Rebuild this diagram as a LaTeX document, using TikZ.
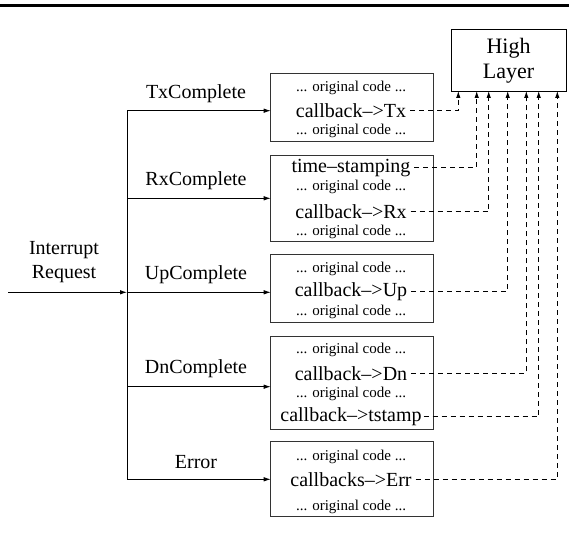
\documentclass[tikz,border=0pt]{standalone}
\usepackage{fontspec}
\setmainfont{Liberation Serif}
\usetikzlibrary{arrows.meta}
\begin{document}
\begin{tikzpicture}[x=1pt,y=-1pt,
  every node/.style={inner sep=0pt,outer sep=0pt},
  codebox/.style={draw=black!80,line width=0.9pt,minimum width=162.3pt},
  big/.style={font=\fontsize{20}{22}\selectfont},
  small/.style={font=\fontsize{15}{17}\selectfont},
  cb/.style={big,inner sep=4pt},
  lbl/.style={big},
  arr/.style={-{Latex[length=7pt,width=4.5pt]},line width=0.8pt},
  dsh/.style={dash pattern=on 5pt off 4pt,-{Latex[length=7pt,width=4.5pt]},line width=0.8pt}]
\useasboundingbox (0,0) rectangle (569,534);
\draw[line width=3pt] (0,6) -- (569,6);
% High layer
\node[draw=black,line width=0.9pt,minimum width=114.3pt,minimum height=61.7pt] (hl) at (508.8,60.15) {};
\node[font=\fontsize{22}{24}\selectfont] (hlt1) at (508.5,48.5) {High};
\node[font=\fontsize{22}{24}\selectfont] (hlt2) at (508.5,73.3) {Layer};
% boxes
\node[codebox,minimum height=68.4pt] (bTx) at (351.85,107.5) {};
\node[codebox,minimum height=86.7pt] (bRx) at (351.85,198.35) {};
\node[codebox,minimum height=68.4pt] (bUp) at (351.85,288.5) {};
\node[codebox,minimum height=93.3pt] (bDn) at (351.85,382.65) {};
\node[codebox,minimum height=75pt] (bErr) at (351.85,479.2) {};
% box texts
\node[small] (o1) at (351,88.3) {... original code ...};
\node[cb] (tTx) at (351,110.7) {callback–>Tx};
\node[small] (o2) at (351,130.7) {... original code ...};
\node[cb] (tTs) at (351,167.7) {time–stamping};
\node[small] (o3) at (351,186.7) {... original code ...};
\node[cb] (tRx) at (351,211.7) {callback–>Rx};
\node[small] (o4) at (351,231.7) {... original code ...};
\node[small] (o5) at (351,269.3) {... original code ...};
\node[cb] (tUp) at (351,291.7) {callback–>Up};
\node[small] (o6) at (351,312.3) {... original code ...};
\node[small] (o7) at (351,350) {... original code ...};
\node[cb] (tDn) at (351,373.3) {callback–>Dn};
\node[small] (o8) at (351,394) {... original code ...};
\node[cb,inner sep=2pt] (tSt) at (351,416.7) {callback–>tstamp};
\node[small] (o9) at (351,456.7) {... original code ...};
\node[cb] (tErr) at (351,479.3) {callbacks–>Err};
\node[small] (o10) at (351,506.7) {... original code ...};
% labels
\node[lbl] (lTx) at (196,93.3) {TxComplete};
\node[lbl] (lRx) at (196,180.7) {RxComplete};
\node[lbl] (lUp) at (196,275) {UpComplete};
\node[lbl] (lDn) at (196,368.3) {DnComplete};
\node[lbl] (lErr) at (196,461.7) {Error};
\node[lbl] (ir1) at (64,250.5) {Interrupt};
\node[lbl] (ir2) at (64,273.8) {Request};
% bus
\coordinate (in) at (8.3,292.3);
\coordinate (jTx) at (127,110.7);
\coordinate (jRx) at (127,198.3);
\coordinate (jUp) at (127,292.3);
\coordinate (jDn) at (127,386.7);
\coordinate (jErr) at (127,479.3);
\draw[line width=0.8pt] (jTx) -- (jErr);
\draw[arr] (in) -- (jUp);
\draw[arr] (jTx) -- (jTx -| bTx.west);
\draw[arr] (jRx) -- (jRx -| bRx.west);
\draw[arr] (jUp) -- (jUp -| bUp.west);
\draw[arr] (jDn) -- (jDn -| bDn.west);
\draw[arr] (jErr) -- (jErr -| bErr.west);
% arrow targets on high layer
\coordinate (a1) at (458.3,91);
\coordinate (a2) at (476.7,91);
\coordinate (a3) at (488.7,91);
\coordinate (a4) at (507.7,91);
\coordinate (a5) at (526.3,91);
\coordinate (a6) at (538.7,91);
\coordinate (a7) at (557.3,91);
\draw[dsh] (tTx.east) -| (a1);
\draw[dsh] (tTs.east) -| (a2);
\draw[dsh] (tRx.east) -| (a3);
\draw[dsh] (tUp.east) -| (a4);
\draw[dsh] (tDn.east) -| (a5);
\draw[dsh] (tSt.east) -| (a6);
\draw[dsh] (tErr.east) -| (a7);
\end{tikzpicture}
\end{document}
